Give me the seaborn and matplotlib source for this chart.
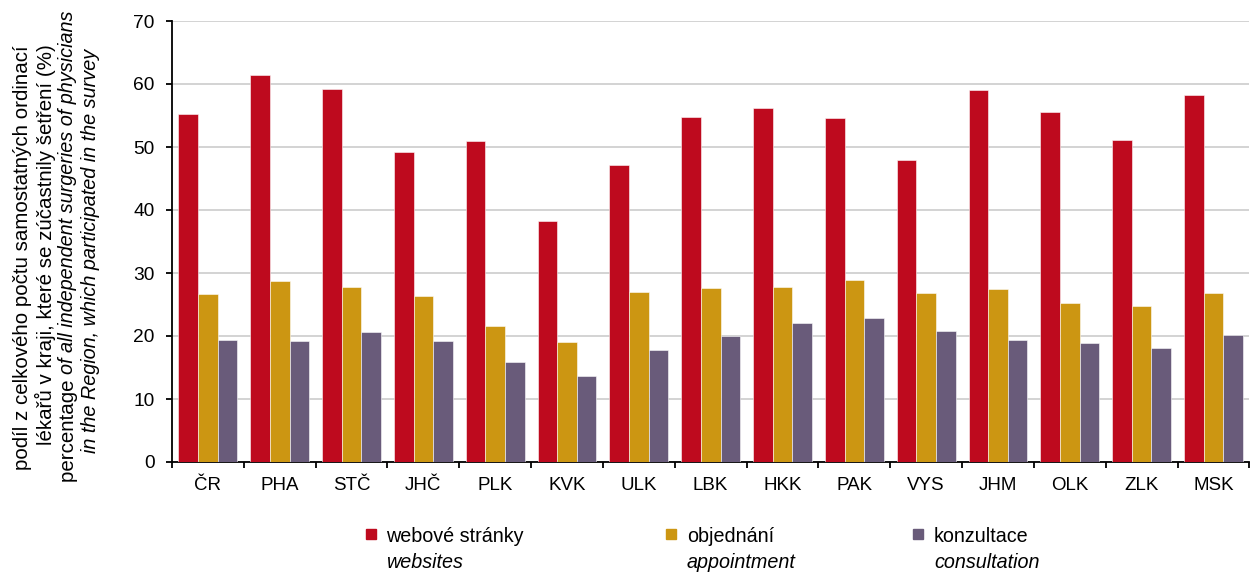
import numpy as np
import pandas as pd
import seaborn as sns
import matplotlib.pyplot as plt
from matplotlib.patches import Rectangle

regions = ['ČR', 'PHA', 'STČ', 'JHČ', 'PLK', 'KVK', 'ULK', 'LBK', 'HKK', 'PAK', 'VYS', 'JHM', 'OLK', 'ZLK', 'MSK']
websites = [55.2, 61.4, 59.2, 49.2, 51.0, 38.3, 47.1, 54.8, 56.2, 54.6, 47.9, 59.0, 55.6, 51.1, 58.3]
appointment = [26.7, 28.7, 27.8, 26.3, 21.6, 19.0, 27.0, 27.6, 27.8, 28.9, 26.8, 27.5, 25.2, 24.8, 26.8]
consultation = [19.4, 19.2, 20.6, 19.2, 15.9, 13.7, 17.8, 20.0, 22.1, 22.9, 20.8, 19.4, 18.9, 18.1, 20.2]

series_cz = ['webové stránky', 'objednání', 'konzultace']
series_en = ['websites', 'appointment', 'consultation']
colors = ['#BE0A1E', '#CC9612', '#695B7A']

df = pd.DataFrame({'region': regions, series_cz[0]: websites,
                   series_cz[1]: appointment, series_cz[2]: consultation})
long = df.melt(id_vars='region', var_name='serie', value_name='value')

sns.set_theme(style='white')
plt.rcParams['font.family'] = ['Liberation Sans', 'DejaVu Sans']
plt.rcParams['text.color'] = 'black'
plt.rcParams['xtick.color'] = 'black'
plt.rcParams['ytick.color'] = 'black'

W, H = 1250, 572
fig = plt.figure(figsize=(W / 100, H / 100), dpi=100)
ax = fig.add_axes([172 / W, 1 - 462 / H, 1 - 172 / W - 0.0005, (462 - 21) / H])

sns.barplot(data=long, x='region', y='value', hue='serie', order=regions,
            hue_order=series_cz, palette=colors, width=0.82, gap=0,
            edgecolor=(1, 1, 1, 0.55), linewidth=0.7, saturation=1,
            legend=False, ax=ax, zorder=3)

ax.set_ylim(0, 70)
ax.set_yticks(np.arange(0, 71, 10))
ax.set_xlim(-0.5, len(regions) - 0.5)
ax.set_xticks(np.arange(-0.5, len(regions), 1.0))
ax.set_xticklabels([])
ax.set_xticks(np.arange(len(regions)), minor=True)
ax.set_xticklabels(regions, minor=True)
ax.tick_params(axis='x', which='minor', bottom=True, length=0, pad=11, labelsize=13.5)
ax.tick_params(axis='x', which='major', bottom=True, length=4.5, width=1.3, direction='out')
ax.tick_params(axis='y', left=True, length=4.5, width=1.3, direction='out', labelsize=13.8, pad=8)
ax.yaxis.grid(True, color='#D0D0D0', linewidth=1.3, zorder=0)
ax.set_axisbelow(True)
ax.set_xlabel('')
ax.set_ylabel('')
for s in ['top', 'right']:
    ax.spines[s].set_visible(False)
for s in ['left', 'bottom']:
    ax.spines[s].set_color('black')
    ax.spines[s].set_linewidth(1.3)

# y axis title: each line is a list of (text, style) pieces, written bottom-up
ylab = [[('podíl z celkového počtu samostatných ordinací', 'normal')],
        [('lékařů v kraji, které se zúčastnily šetření (%)', 'normal')],
        [('percentage ', 'normal'), ('of all independent surgeries of physicians', 'italic')],
        [('in the Region, which participated in the survey', 'italic')]]
line_x = [23, 45.5, 68, 90.5]
line_bottom = [470, 445, 482, 453]
renderer = fig.canvas.get_renderer()
for i, pieces in enumerate(ylab):
    y = 1 - line_bottom[i] / H
    for txt, st in pieces:
        t = fig.text(line_x[i] / W, y, txt, rotation=90, ha='center', va='bottom',
                     fontsize=14.8 if st == 'normal' else 14.3, style=st)
        bb = t.get_window_extent(renderer)
        y = bb.y1 / H

# legend
mark_x = [370.5, 671, 918]
for i in range(3):
    fig.patches.append(Rectangle(((mark_x[i] - 5) / W, 1 - 539 / H), 10 / W, 10 / H,
                                 transform=fig.transFigure, color=colors[i]))
    fig.text((mark_x[i] + 16) / W, 1 - 542 / H, series_cz[i], ha='left', va='baseline', fontsize=14.2)
    fig.text((mark_x[i] + 16) / W, 1 - 568 / H, series_en[i], ha='left', va='baseline',
             fontsize=14.2, style='italic')

fig.savefig('out.png', dpi=100)
